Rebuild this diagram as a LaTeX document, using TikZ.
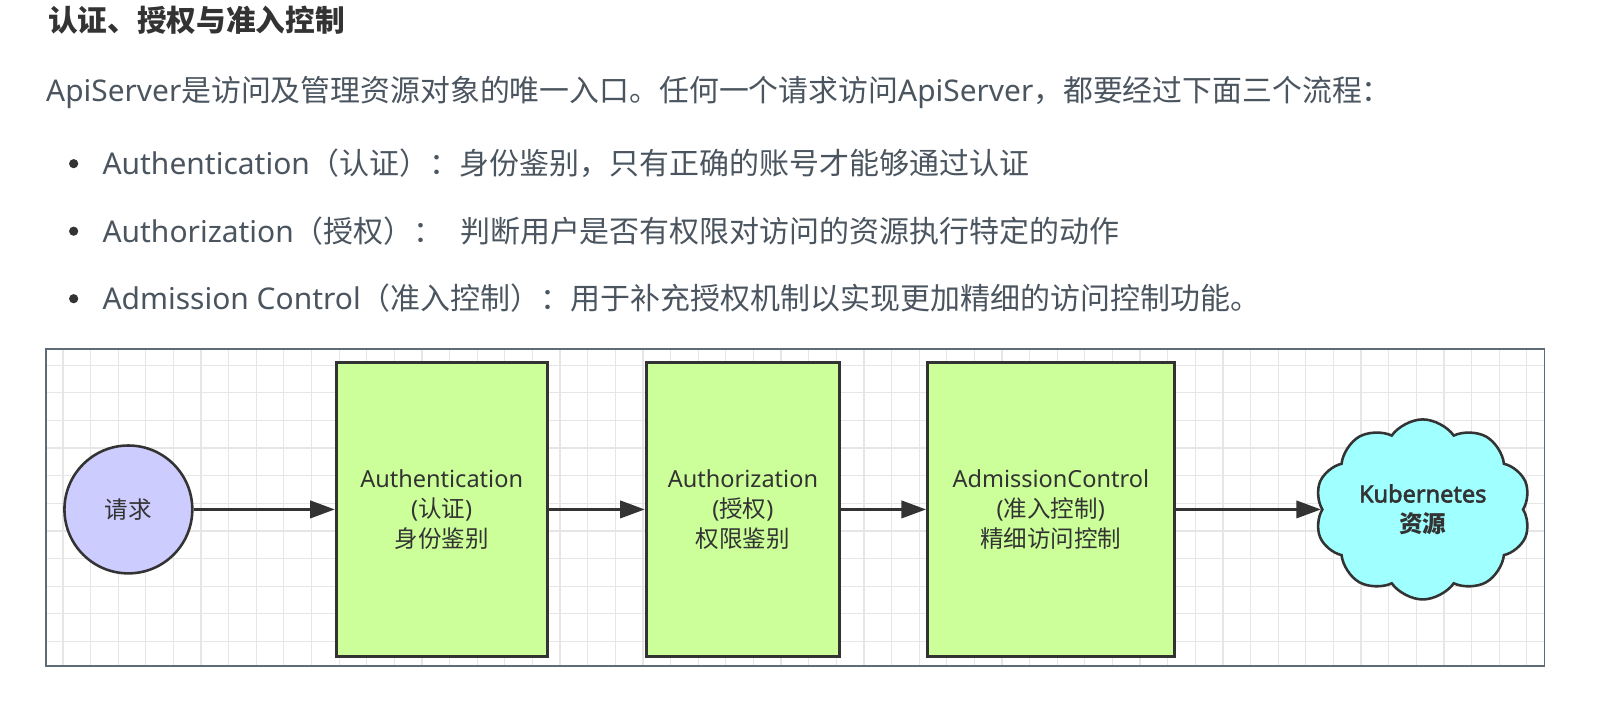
\documentclass[tikz,border=0pt]{standalone}
\usepackage{fontspec}
\setmainfont{Noto Sans}
\newfontfamily\zhfont{Noto Sans CJK SC}
\newfontfamily\latbold{Noto Sans}[FakeBold=2.5]
\usetikzlibrary{arrows.meta,positioning,shapes.symbols}
\definecolor{ink}{HTML}{333333}
\definecolor{body}{HTML}{4B555F}
\definecolor{frame}{HTML}{5F6B76}
\definecolor{gridc}{HTML}{E6E6E6}
\definecolor{okgreen}{HTML}{CCFF99}
\definecolor{lavender}{HTML}{CCCCFF}
\definecolor{cyanres}{HTML}{A0FFFF}
\newcommand\zh[1]{{\zhfont #1}}

\begin{document}
\begin{tikzpicture}[x=1pt,y=-1pt,
  txt/.style={anchor=base west,inner sep=0pt,text=body,
    font=\fontsize{29.3}{34}\selectfont},
  stage/.style={draw=ink,fill=okgreen,line width=3pt,minimum height=288pt,
    align=center,inner sep=0pt,text=ink,font=\fontsize{23}{29}\selectfont},
  start/.style={circle,draw=ink,fill=lavender,line width=2.5pt,
    minimum size=125pt,inner sep=0pt,text=ink,font=\fontsize{23}{29}\selectfont},
  res/.style={cloud,cloud puffs=10,cloud puff arc=110,aspect=1.2,
    draw=ink,fill=cyanres,line width=2.5pt,minimum width=211pt,
    minimum height=176pt,inner sep=0pt,align=center,text=ink,
    font=\fontsize{23}{29}\selectfont},
  arr/.style={-{Triangle[length=24pt,width=17pt]},draw=ink,line width=2.5pt},
  gridline/.style={draw=gridc,line width=1.2pt}
]
\useasboundingbox (0,0) rectangle (1568,695);

% heading and bullet text
\node[txt,text=ink,font=\fontsize{29}{34}\selectfont\zhfont\bfseries] (title) at (47,31)
  {认证、授权与准入控制};
\node[txt,font=\fontsize{29.2}{34}\selectfont] (intro) at (45,99)
  {ApiServer\zh{是访问及管理资源对象的唯一入口。任何一个请求访问}ApiServer\zh{，都要经过下面三个流程：}};
\fill[ink] (72,160) circle (4.5);
\node[txt] (b1) at (100,171)
  {Authentication\zh{（认证）：身份鉴别，只有正确的账号才能够通过认证}};
\fill[ink] (72,226) circle (4.5);
\node[txt] (b2) at (100,237)
  {Authorization\zh{（授权）：\hspace{16pt}判断用户是否有权限对访问的资源执行特定的动作}};
\fill[ink] (72,292) circle (4.5);
\node[txt] (b3) at (100,303)
  {Admission Control\zh{（准入控制）：用于补充授权机制以实现更加精细的访问控制功能。}};

% canvas with grid
\begin{scope}
  \clip (45,341) rectangle (1510,651);
  \foreach \gx in {0,...,53} \draw[gridline] ({61.5+27*\gx},341) -- ++(0,310);
  \foreach \gy in {0,...,10} \draw[gridline] (45,{357+27*\gy}) -- ++(1465,0);
\end{scope}
\draw[frame,line width=1.5pt] (45,341) rectangle (1510,651);

% flow
\node[start] (req) at (125.5,498) {\zh{请求}};
\node[stage,minimum width=206pt,right=138pt of req] (authn)
  {Authentication\\(\zh{认证})\\\zh{身份鉴别}};
\node[stage,minimum width=189pt,right=94pt of authn] (authz)
  {Authorization\\(\zh{授权})\\\zh{权限鉴别}};
\node[stage,minimum width=241pt,right=83pt of authz] (admit)
  {AdmissionControl\\(\zh{准入控制})\\\zh{精细访问控制}};
\node[res,right=142pt of admit] (k8s)
  {\latbold Kubernetes\\\zh{\bfseries 资源}};
\draw[arr] (req) -- (authn);
\draw[arr] (authn) -- (authz);
\draw[arr] (authz) -- (admit);
\draw[arr] (admit) -- (k8s);
\end{tikzpicture}
\end{document}
